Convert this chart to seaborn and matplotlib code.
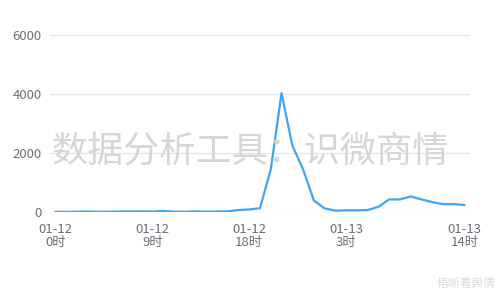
import matplotlib
matplotlib.use("Agg")
import matplotlib.pyplot as plt
import seaborn as sns
import pandas as pd
import numpy as np

hours = list(range(39))
values = [10, 5, 15, 20, 10, 15, 20, 20, 25, 20, 40, 15, 10, 25, 15, 20, 25, 70,
          90, 130, 1450, 4030, 2260, 1450, 395, 125, 50, 60, 60, 70, 180, 430,
          430, 530, 430, 340, 270, 270, 240]
tick_pos = [0, 9, 18, 27, 38]
tick_labels = ["01-12\n0时", "01-12\n9时", "01-12\n18时", "01-13\n3时", "01-13\n14时"]
y_ticks = [0, 2000, 4000, 6000]

sns.set_theme(style="white")
plt.rcParams['font.family'] = ['Noto Sans CJK SC', 'DejaVu Sans']

df = pd.DataFrame({"hour": hours, "value": values})

fig = plt.figure(figsize=(5, 3), dpi=100)
ax = fig.add_axes([0.10, 0.293, 0.84, 0.59])
sns.lineplot(data=df, x="hour", y="value", ax=ax, color="#3fa6ef", linewidth=1.6, zorder=3)

ax.set_xlim(-0.5, 38.5)
ax.set_ylim(0, 6000)
ax.set_yticks(y_ticks)
ax.set_yticklabels([str(v) for v in y_ticks])
ax.set_xticks(tick_pos)
ax.set_xticklabels(tick_labels, linespacing=0.95)
ax.set_xlabel("")
ax.set_ylabel("")
ax.grid(axis="y", color="#e0e6f1", linewidth=0.9)
ax.set_axisbelow(False)
for s in ax.spines.values():
    s.set_visible(False)
ax.tick_params(axis="both", length=0, labelsize=9.5, colors="#6e7079")
ax.tick_params(axis="y", pad=6)
ax.tick_params(axis="x", pad=8)
ax.margins(y=0)

fig.text(0.50, 0.49, "数据分析工具：识微商情", fontsize=26, color="#d6d6d6",
         ha="center", va="center", zorder=0)
fig.text(0.99, 0.055, "梧晰看舆情", fontsize=8.5, color="#dcdcdc",
         ha="right", va="center")

fig.savefig("out.png", dpi=100)
